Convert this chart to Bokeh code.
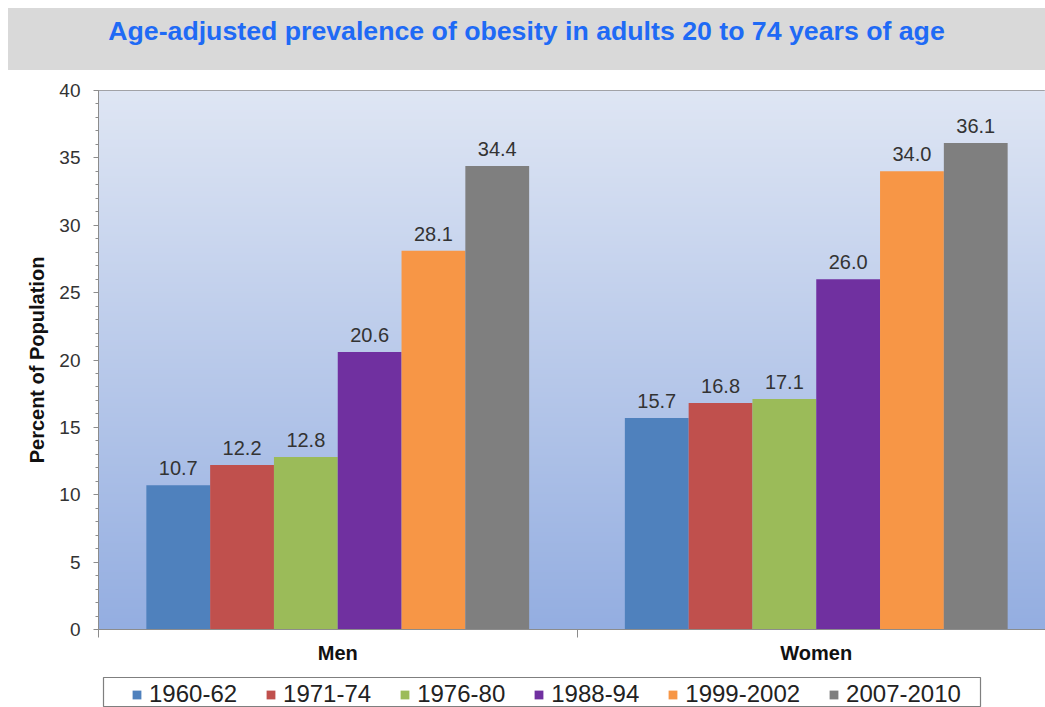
import numpy as np
from bokeh.plotting import figure
from bokeh.models import (ColumnDataSource, Range1d, FixedTicker, LabelSet, Legend,
                          LegendItem, Div)
from bokeh.core.properties import value
from bokeh.layouts import column
from bokeh.embed import file_html
from bokeh.resources import INLINE

# ---------------- data ----------------
groups = ["Men", "Women"]
periods = ["1960-62", "1971-74", "1976-80", "1988-94", "1999-2002", "2007-2010"]
men = [10.7, 12.2, 12.8, 20.6, 28.1, 34.4]
women = [15.7, 16.8, 17.1, 26.0, 34.0, 36.1]
colors = ["#4f81bd", "#c0504d", "#9bbb59", "#7030a0", "#f79646", "#7f7f7f"]
y_ticks = [0, 5, 10, 15, 20, 25, 30, 35, 40]
title_text = "Age-adjusted prevalence of obesity in adults 20 to 74 years of age"
y_label = "Percent of Population"

FONT = "Liberation Sans"
W = 1037
X_END = 947 / 478.5

# ---------------- title band ----------------
div = Div(
    text=(f'<div style="width:{W}px;height:62px;box-sizing:border-box;padding-top:8px;'
          f'text-align:center;font-family:\'{FONT}\',Arial,sans-serif;font-weight:bold;'
          f'font-size:26.7px;line-height:30px;color:#1f6af5;background:#d9d9d9;">'
          f'{title_text}</div>'),
    width=W, height=62, margin=(8, 0, 0, 8),
)

# ---------------- main figure ----------------
p = figure(width=W, height=596, x_range=Range1d(0, X_END), y_range=Range1d(0, 40),
           output_backend="svg", toolbar_location=None,
           min_border_left=90, min_border_right=0, min_border_top=20, min_border_bottom=34,
           margin=(0, 0, 0, 8))
p.frame_align = False
p.background_fill_color = "#c0cfee"
p.border_fill_color = "white"
p.outline_line_color = "#8c8c8c"
p.xgrid.visible = False
p.ygrid.visible = False

# gradient plot background
n = 300
t = np.linspace(0, 1, n)[:, None]
top_c = np.array([0xdf, 0xe6, 0xf4])
bot_c = np.array([0x94, 0xae, 0xe1])
rgb = (bot_c[None, :] * (1 - t) + top_c[None, :] * t).astype(np.uint8)
img = np.zeros((n, 1), dtype=np.uint32)
view = img.view(dtype=np.uint8).reshape((n, 1, 4))
view[:, 0, 0] = rgb[:, 0]
view[:, 0, 1] = rgb[:, 1]
view[:, 0, 2] = rgb[:, 2]
view[:, 0, 3] = 255
p.image_rgba(image=[img], x=0, y=0, dw=X_END, dh=40)

# ---------------- legend strip (box continues past the page bottom) ----------------
lg = figure(width=W, height=41, output_backend="svg", toolbar_location=None,
            x_axis_type=None, y_axis_type=None,
            x_range=Range1d(100, 101), y_range=Range1d(100, 101),
            min_border_left=95, min_border_right=65, min_border_top=11, min_border_bottom=0,
            margin=(0, 0, 0, 8))
lg.frame_align = False
lg.xgrid.visible = False
lg.ygrid.visible = False
lg.outline_line_color = "#7f7f7f"
lg.outline_line_width = 1.2
lg.background_fill_color = "white"
lg.border_fill_color = "white"

bw = 0.8 / len(periods)
items = []
for i, (per, col) in enumerate(zip(periods, colors)):
    vals = [men[i], women[i]]
    xs = [g + 0.5 + (i - (len(periods) - 1) / 2) * bw for g in range(len(groups))]
    src = ColumnDataSource(dict(x=xs, top=vals, lab=[f"{v:.1f}" for v in vals]))
    p.vbar(x="x", top="top", width=bw, source=src, fill_color=col, line_color=None)
    p.add_layout(LabelSet(x="x", y="top", text="lab", source=src, text_align="center",
                          text_baseline="alphabetic", y_offset=10,
                          text_font=value(FONT), text_font_size=value("20px"),
                          text_color="#333333"))
    # legend proxy in the strip (its ranges keep the bars themselves out of view)
    r = lg.vbar(x="x", top="top", width=bw, source=src, fill_color=col, line_color=None)
    items.append(LegendItem(label=per, renderers=[r]))

# y axis
ya = p.yaxis[0]
ya.ticker = FixedTicker(ticks=y_ticks, minor_ticks=list(range(0, 41)))
ya.major_tick_out = 5
ya.major_tick_in = 0
ya.minor_tick_out = 3
ya.minor_tick_in = 0
ya.axis_line_color = "#8c8c8c"
ya.major_tick_line_color = "#8c8c8c"
ya.minor_tick_line_color = "#8c8c8c"
ya.major_label_text_font = FONT
ya.major_label_text_font_size = "19px"
ya.major_label_text_color = "#333333"
ya.major_label_standoff = 13
ya.axis_label = y_label
ya.axis_label_text_font = FONT
ya.axis_label_text_font_style = "bold"
ya.axis_label_text_font_size = "20px"
ya.axis_label_text_color = "#111111"
ya.axis_label_standoff = 8

# x axis
xa = p.xaxis[0]
xa.ticker = FixedTicker(ticks=[0.5, 1.5], minor_ticks=[0, 1, 2])
xa.major_label_overrides = {0.5: groups[0], 1.5: groups[1]}
xa.major_tick_out = 0
xa.major_tick_in = 0
xa.minor_tick_out = 8
xa.minor_tick_in = 0
xa.axis_line_color = "#8c8c8c"
xa.minor_tick_line_color = "#8c8c8c"
xa.major_label_text_font = FONT
xa.major_label_text_font_style = "bold"
xa.major_label_text_font_size = "20px"
xa.major_label_text_color = "#111111"
xa.major_label_standoff = 4

legend = Legend(items=items, orientation="horizontal", location=(26, -3),
                margin=0, padding=2, spacing=28, label_standoff=7,
                glyph_width=11, glyph_height=11,
                label_text_font=FONT, label_text_font_size="24px",
                label_text_color="#222222",
                border_line_alpha=0, background_fill_alpha=0)
lg.add_layout(legend, "center")

layout = column(div, p, lg, spacing=0)
open("out.html", "w").write(file_html(layout, INLINE))
